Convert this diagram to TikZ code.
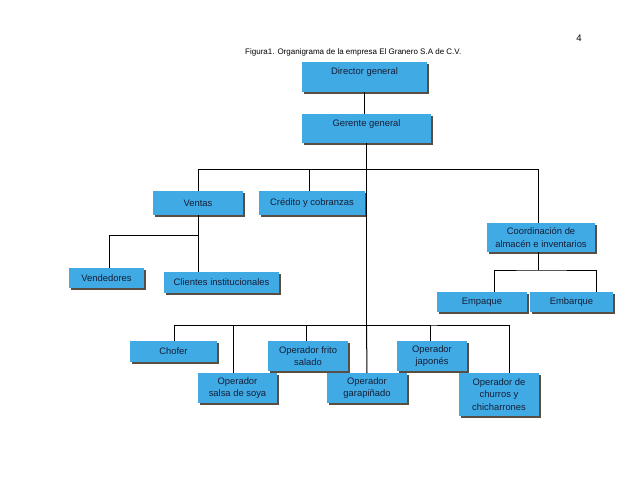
\documentclass[tikz,border=0pt]{standalone}
\usepackage{fontspec}
\setmainfont{Liberation Sans}
\usetikzlibrary{positioning,shadows}
\definecolor{cajaazul}{RGB}{64,170,228}
\definecolor{sombra}{RGB}{88,78,66}
\definecolor{letra}{RGB}{22,30,55}

\begin{document}
\begin{tikzpicture}[x=1pt, y=1pt,
	puesto/.style={fill=cajaazul, text=letra, align=center, inner sep=0pt, outer sep=0pt,
		font=\fontsize{9.4}{12.3}\selectfont,
		drop shadow={shadow xshift=1.5pt, shadow yshift=-1.5pt, fill=sombra, opacity=1}},
	arriba/.style={text height=12pt, text depth=#1}]
	\useasboundingbox (0,0) rectangle (638,-493);
	\node [anchor=base west, inner sep=0pt, font=\fontsize{8}{9}\selectfont] (fig) at (245,-54.5) {Figura1. Organigrama de la empresa El Granero S.A de C.V.};
	\node [font=\fontsize{9.5}{11}\selectfont] (pag) at (579,-38) {4};
	% direccion
	\node [puesto, arriba=18pt, minimum width=125pt] (dir) at (364.5,-77) {Director general};
	\node [puesto, arriba=17pt, minimum width=129pt, below=22pt of dir, xshift=2pt] (ger) {Gerente general};
	% primer nivel
	\node [puesto, minimum width=90pt, minimum height=24pt, below left=48pt and 59pt of ger] (ven) {Ventas};
	\node [puesto, minimum width=106pt, minimum height=24pt, right=16pt of ven] (cre) {Crédito y cobranzas};
	\node [puesto, minimum width=108pt, minimum height=29pt, below right=80pt and 56pt of ger] (coo) {Coordinación de\\almacén e inventarios};
	% ventas
	\node [puesto, minimum width=75pt, minimum height=20pt, below left=53pt and 9pt of ven] (vnd) {Vendedores};
	\node [puesto, minimum width=115pt, minimum height=21pt, right=20pt of vnd, yshift=-4.5pt] (cli) {Clientes institucionales};
	% almacen
	\node [puesto, minimum width=90pt, minimum height=20pt, below=40pt of coo, xshift=-59pt] (emp) {Empaque};
	\node [puesto, minimum width=83pt, minimum height=20pt, right=3pt of emp] (emb) {Embarque};
	% operadores
	\node [puesto, minimum width=80pt, minimum height=30pt, below=198pt of ger, xshift=-58.5pt] (fri) {Operador frito\\salado};
	\node [puesto, minimum width=87pt, minimum height=21pt, left=51pt of fri, yshift=4.5pt] (cho) {Chofer};
	\node [puesto, minimum width=70pt, minimum height=30pt, right=49pt of fri] (jap) {Operador\\japonés};
	\node [puesto, minimum width=80pt, minimum height=30pt, below=2pt of fri, xshift=59pt] (gar) {Operador\\garapiñado};
	\node [puesto, minimum width=79pt, minimum height=30pt, left=50pt of gar] (sal) {Operador\\salsa de soya};
	\node [puesto, minimum width=80pt, minimum height=43pt, right=52pt of gar, yshift=-6.5pt] (chu) {Operador de\\churros y\\chicharrones};
	% uniones
	\coordinate [below=26.5pt of ger] (j1);
	\coordinate [below=20pt of ven] (j2);
	\coordinate [below=182pt of ger] (j3);
	\coordinate [below=18pt of coo.south, xshift=-3pt] (j4);
	% lineas
	\draw [line width=1pt] (dir.south) -- (dir.south |- ger.north);
	\draw [line width=1pt] (ger.south) -- (j3);
	\draw [line width=1pt] (ven.north) |- (j1) -| ([xshift=-3pt]coo.north);
	\draw [line width=1pt] ([xshift=-3pt]cre.north) |- (j1);
	\draw [line width=1pt] (ven.south) -- (j2) -| ([xshift=2.5pt]vnd.north);
	\draw [line width=1pt] (j2) -- (j2 |- cli.north);
	\draw [line width=1pt] (j4 |- coo.south) -- (j4);
	\draw [line width=1pt] ([xshift=12pt]emp.north) |- (j4) -| ([xshift=25pt]emb.north);
	\draw [line width=1pt] ([xshift=0.5pt]cho.north) |- (j3) -| ([xshift=10pt]chu.north);
	\draw [line width=1pt] ([xshift=-4.5pt]sal.north) |- (j3);
	\draw [line width=1pt] ([xshift=-2pt]fri.north) |- (j3);
	\draw [line width=1pt] (gar.north) -- (j3);
	\draw [line width=1pt] ([xshift=-2pt]jap.north) |- (j3);
\end{tikzpicture}
\end{document}
